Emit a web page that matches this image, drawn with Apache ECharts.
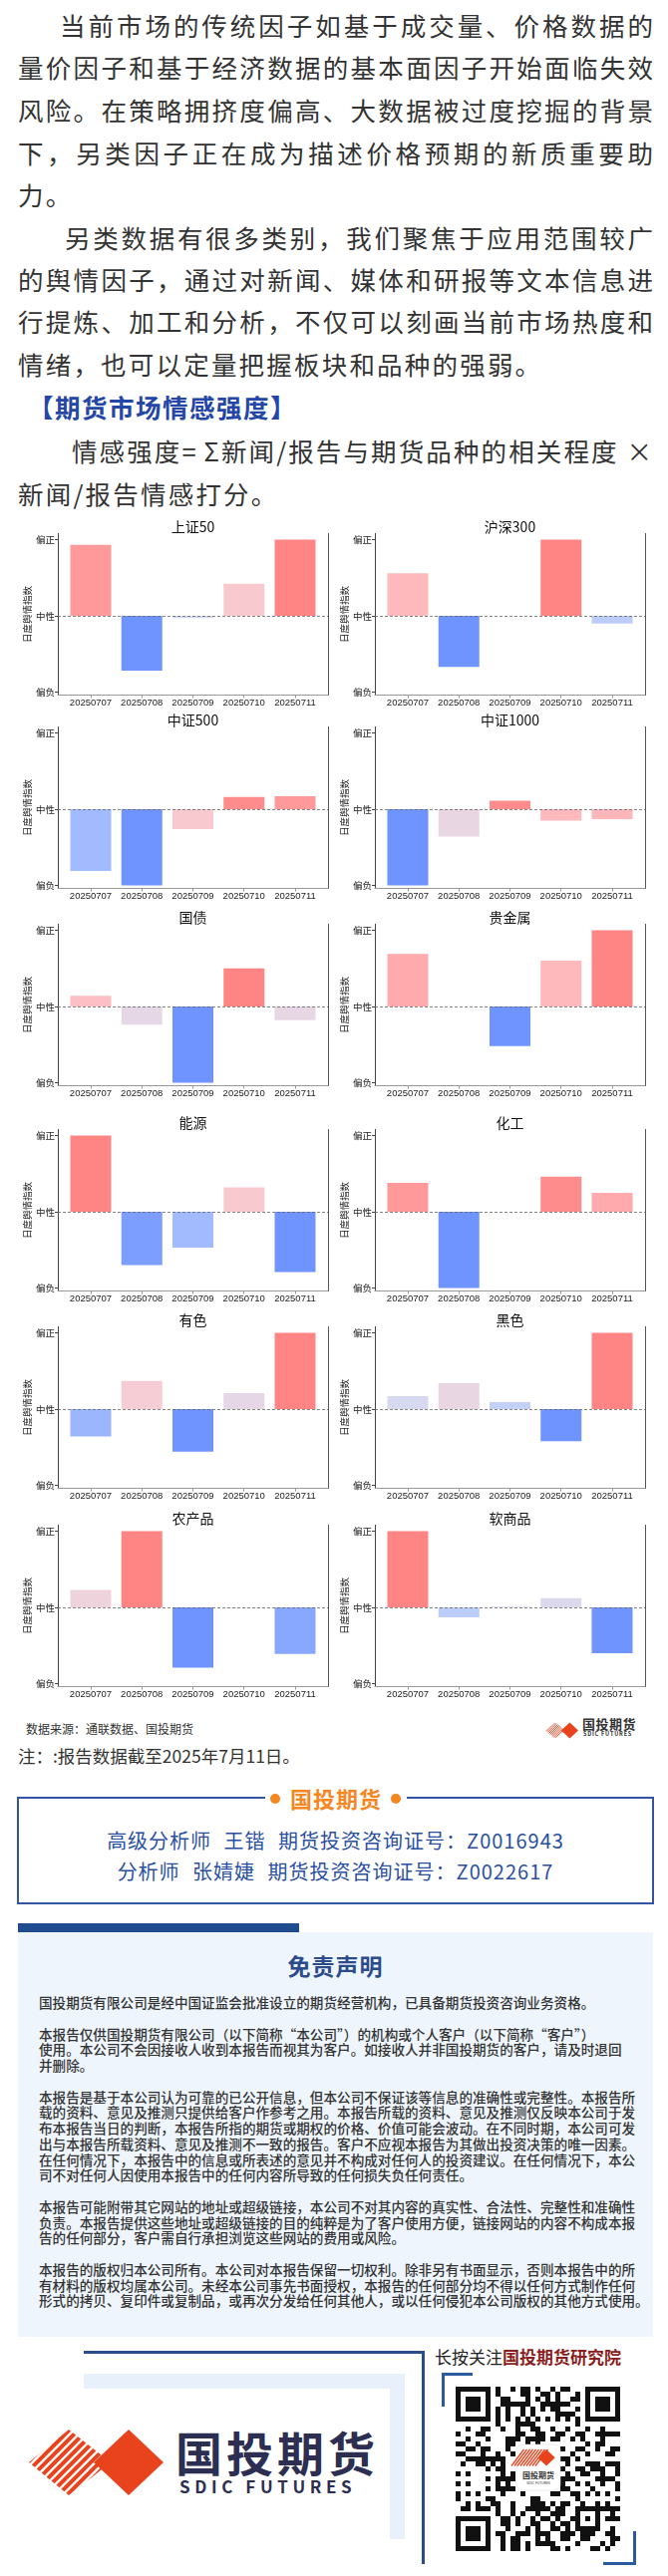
<!DOCTYPE html>
<html lang="zh-CN"><head><meta charset="utf-8">
<script src="https://cdn.jsdelivr.net/npm/echarts@6.0.0/dist/echarts.min.js"></script>
<style>
html,body{margin:0;padding:0;background:#fff;}
body{width:670px;height:2585px;position:relative;overflow:hidden;font-family:"Noto Sans CJK SC","Noto Sans",sans-serif;}
.abs{position:absolute;}
.ln{position:absolute;height:42px;line-height:42px;font-size:25.5px;color:#333;white-space:nowrap;}
.jl{text-align:justify;text-align-last:justify;letter-spacing:0;}
.nl{letter-spacing:2.2px;}
.disc{position:absolute;left:39px;top:2002px;font-size:13.6px;line-height:15.75px;color:#333;font-weight:500;white-space:pre;}
</style></head><body>

<div class="ln jl" style="left:60px;top:4px;width:595px">当前市场的传统因子如基于成交量、价格数据的</div>
<div class="ln jl" style="left:18px;top:46px;width:637px">量价因子和基于经济数据的基本面因子开始面临失效</div>
<div class="ln jl" style="left:18px;top:89px;width:637px">风险。在策略拥挤度偏高、大数据被过度挖掘的背景</div>
<div class="ln jl" style="left:18px;top:132px;width:637px">下，另类因子正在成为描述价格预期的新质重要助</div>
<div class="ln nl" style="left:18px;top:174px">力。</div>
<div class="ln jl" style="left:65px;top:217px;width:590px">另类数据有很多类别，我们聚焦于应用范围较广</div>
<div class="ln jl" style="left:18px;top:259px;width:637px">的舆情因子，通过对新闻、媒体和研报等文本信息进</div>
<div class="ln jl" style="left:18px;top:301px;width:637px">行提炼、加工和分析，不仅可以刻画当前市场热度和</div>
<div class="ln nl" style="left:18px;top:344px">情绪，也可以定量把握板块和品种的强弱。</div>
<div class="ln" style="left:28px;top:387px;font-weight:700;color:#2446a6;letter-spacing:1.5px">【期货市场情感强度】</div>
<div class="ln jl" style="left:72px;top:431px;width:582px">情感强度= Σ新闻/报告与期货品种的相关程度 ×</div>
<div class="ln nl" style="left:18px;top:474px">新闻/报告情感打分。</div>

<div id="chart" class="abs" style="left:0;top:505px;width:670px;height:1215px"></div>

<div class="abs" style="left:26px;top:1726px;font-size:12px;line-height:18px;color:#333">数据来源：通联数据、国投期货</div>
<div class="abs" id="smallIcon" style="left:547px;top:1726px;width:33px;height:17px"></div>
<div class="abs" style="left:584px;top:1722px;font-size:13px;line-height:16px;font-weight:700;color:#333;letter-spacing:0.5px">国投期货</div>
<div class="abs" style="left:585px;top:1737px;font-size:5.5px;line-height:7px;font-weight:700;color:#333;letter-spacing:0.8px">SDIC FUTURES</div>

<div class="abs" style="left:18px;top:1749px;font-size:17.5px;line-height:26px;color:#333">注：:报告数据截至2025年7月11日。</div>

<div class="abs" style="left:17px;top:1803px;width:635px;height:104px;border:2px solid #3554a5;"></div>
<div class="abs" style="left:266px;top:1789px;width:142px;height:30px;background:#fff;"></div>
<div class="abs" style="left:271px;top:1800px;width:10px;height:10px;border-radius:50%;background:#f6861f"></div>
<div class="abs" style="left:392px;top:1800px;width:10px;height:10px;border-radius:50%;background:#f6861f"></div>
<div class="abs" style="left:287px;top:1789px;width:100px;text-align:center;font-size:22px;line-height:30px;font-weight:700;color:#f6861f;letter-spacing:1px">国投期货</div>
<div class="abs" style="left:17px;top:1834px;width:639px;text-align:center;font-size:20px;line-height:26px;color:#2b4fa0;letter-spacing:1px;word-spacing:7px">高级分析师 王锴 期货投资咨询证号：Z0016943</div>
<div class="abs" style="left:17px;top:1865px;width:639px;text-align:center;font-size:20px;line-height:26px;color:#2b4fa0;letter-spacing:1px;word-spacing:7px">分析师 张婧婕 期货投资咨询证号：Z0022617</div>

<div class="abs" style="left:18px;top:1930px;width:282px;height:9px;background:#1e4c8f"></div>
<div class="abs" style="left:18px;top:1939px;width:637px;height:406px;background:#eef5fd"></div>
<div class="abs" style="left:18px;top:1956px;width:637px;text-align:center;font-size:23px;line-height:32px;font-weight:700;color:#2b4b8a;letter-spacing:1px">免责声明</div>
<div class="disc">国投期货有限公司是经中国证监会批准设立的期货经营机构，已具备期货投资咨询业务资格。

本报告仅供国投期货有限公司（以下简称“本公司”）的机构或个人客户（以下简称“客户”）
使用。本公司不会因接收人收到本报告而视其为客户。如接收人并非国投期货的客户，请及时退回
并删除。

本报告是基于本公司认为可靠的已公开信息，但本公司不保证该等信息的准确性或完整性。本报告所
载的资料、意见及推测只提供给客户作参考之用。本报告所载的资料、意见及推测仅反映本公司于发
布本报告当日的判断，本报告所指的期货或期权的价格、价值可能会波动。在不同时期，本公司可发
出与本报告所载资料、意见及推测不一致的报告。客户不应视本报告为其做出投资决策的唯一因素。
在任何情况下，本报告中的信息或所表述的意见并不构成对任何人的投资建议。在任何情况下，本公
司不对任何人因使用本报告中的任何内容所导致的任何损失负任何责任。

本报告可能附带其它网站的地址或超级链接，本公司不对其内容的真实性、合法性、完整性和准确性
负责。本报告提供这些地址或超级链接的目的纯粹是为了客户使用方便，链接网站的内容不构成本报
告的任何部分，客户需自行承担浏览这些网站的费用或风险。

本报告的版权归本公司所有。本公司对本报告保留一切权利。除非另有书面显示，否则本报告中的所
有材料的版权均属本公司。未经本公司事先书面授权，本报告的任何部分均不得以任何方式制作任何
形式的拷贝、复印件或复制品，或再次分发给任何其他人，或以任何侵犯本公司版权的其他方式使用。</div>

<!-- footer decoration -->
<div class="abs" style="left:84px;top:2382px;width:322px;height:15px;background:#e8f1fb"></div>
<div class="abs" style="left:391px;top:2382px;width:15px;height:166px;background:#e8f1fb"></div>
<div class="abs" style="left:84px;top:2359px;width:342px;height:2.5px;background:#2c4d8c"></div>
<div class="abs" style="left:423px;top:2359px;width:2.5px;height:214px;background:#2c4d8c"></div>
<div class="abs" id="bigIcon" style="left:29px;top:2438px;width:135px;height:66px"></div>
<div class="abs" style="left:176px;top:2432px;font-size:47px;line-height:56px;font-weight:700;color:#2d2f52;letter-spacing:4px">国投期货</div>
<div class="abs" style="left:180px;top:2484px;font-size:17px;line-height:22px;font-weight:700;color:#2d2f52;letter-spacing:4.6px">SDIC FUTURES</div>

<div class="abs" style="left:436px;top:2353px;font-size:17px;line-height:24px;color:#222;white-space:nowrap">长按关注<span style="color:#8b1d1d;font-weight:700">国投期货研究院</span></div>
<div class="abs" style="left:443px;top:2381px;width:31px;height:3px;background:#2c5aa0"></div>
<div class="abs" style="left:443px;top:2381px;width:3px;height:34px;background:#2c5aa0"></div>
<div class="abs" style="left:605px;top:2571px;width:33px;height:3px;background:#2c5aa0"></div>
<div class="abs" style="left:635px;top:2540px;width:3px;height:34px;background:#2c5aa0"></div>
<div class="abs" id="qr" style="left:457px;top:2395px;width:165px;height:165px"></div>

<script>
// ---------------- data ----------------
const dates = ['20250707', '20250708', '20250709', '20250710', '20250711'];
const yTickNames = ['偏负', '中性', '偏正'];
const yAxisName = '日度舆情指数';

const sz50 = [0.93, -0.72, -0.03, 0.42, 1.0];
const sz50Tone = [0.85, -1, -0.2, 0.4, 1];
const hs300 = [0.56, -0.67, 0, 1.0, -0.10];
const hs300Tone = [0.6, -1, 0, 1, -0.4];
const zz500 = [-0.81, -1.0, -0.26, 0.16, 0.17];
const zz500Tone = [-0.6, -1, 0.4, 0.95, 0.85];
const zz1000 = [-1.0, -0.36, 0.11, -0.15, -0.13];
const zz1000Tone = [-1, 0.12, 0.95, 0.6, 0.62];
const guozhai = [0.14, -0.24, -1.0, 0.50, -0.18];
const guozhaiTone = [0.55, 0.08, -1, 1, 0.1];
const guijinshu = [0.69, 0, -0.52, 0.60, 1.0];
const guijinshuTone = [0.72, 0, -1, 0.6, 1];
const nengyuan = [1.0, -0.70, -0.47, 0.32, -0.79];
const nengyuanTone = [1, -0.9, -0.6, 0.4, -1];
const huagong = [0.38, -1.0, 0, 0.46, 0.25];
const huagongTone = [0.85, -1, 0, 0.95, 0.72];
const youse = [-0.36, 0.37, -0.56, 0.21, 1.0];
const youseTone = [-0.65, 0.35, -1, 0.08, 1];
const heise = [0.17, 0.34, 0.09, -0.42, 1.0];
const heiseTone = [-0.12, 0.12, -0.35, -1, 1];
const nongchanpin = [0.23, 1.0, -0.79, -0.005, -0.61];
const nongchanpinTone = [0.2, 1, -1, 0, -0.8];
const ruanshangpin = [1.0, -0.13, 0.01, 0.12, -0.60];
const ruanshangpinTone = [1, -0.4, 0, -0.05, -1];

const panelNames = ['上证50', '沪深300', '中证500', '中证1000', '国债', '贵金属', '能源', '化工', '有色', '黑色', '农产品', '软商品'];
const panelValues = [sz50, hs300, zz500, zz1000, guozhai, guijinshu, nengyuan, huagong, youse, heise, nongchanpin, ruanshangpin];
const panelTones = [sz50Tone, hs300Tone, zz500Tone, zz1000Tone, guozhaiTone, guijinshuTone, nengyuanTone, huagongTone, youseTone, heiseTone, nongchanpinTone, ruanshangpinTone];

// ---------------- layout ----------------
const OFFSET = 505;
const colLeft = [58, 376];
const plotW = 271;
const zeroY = [618, 812, 1010, 1216, 1414, 1613];
const UNIT = 76.5;
const YMIN = -1.04, YMAX = 1.08;
const XMIN = -0.644, XMAX = 4.644;
const FONT = '"Noto Sans CJK SC", "Noto Sans", sans-serif';
const NUMFONT = '"Liberation Sans", Arial, sans-serif';

const grids = [], xAxes = [], yAxes = [], series = [], graphics = [];
panelNames.forEach((name, k) => {
  const col = k % 2, row = Math.floor(k / 2);
  const z = zeroY[row] - OFFSET;
  const top = z - YMAX * UNIT;
  const h = (YMAX - YMIN) * UNIT;
  grids.push({left: colLeft[col], top: top, width: plotW, height: h, containLabel: false});
  xAxes.push({
    type: 'value', gridIndex: k, min: XMIN, max: XMAX,
    axisLine: {show: true, onZero: false, lineStyle: {color: '#999', width: 1}},
    axisTick: {show: true, customValues: [0, 1, 2, 3, 4], length: 3, lineStyle: {color: '#999'}},
    axisLabel: {
      customValues: [0, 1, 2, 3, 4], margin: 3, fontSize: 9.5, color: '#222', fontFamily: NUMFONT,
      formatter: v => (Math.abs(v - Math.round(v)) < 1e-6 && v >= 0 && v <= 4) ? dates[Math.round(v)] : ''
    },
    splitLine: {show: false}
  });
  yAxes.push({
    type: 'value', gridIndex: k, min: YMIN, max: YMAX, position: 'left',
    axisLine: {show: true, onZero: false, lineStyle: {color: '#444', width: 1}},
    axisTick: {show: true, customValues: [-1, 0, 1], length: 3, lineStyle: {color: '#444'}},
    axisLabel: {
      customValues: [-1, 0, 1], margin: 3, fontSize: 9.5, color: '#222', fontFamily: FONT,
      formatter: v => Math.abs(v - 1) < 1e-6 ? yTickNames[2] : (Math.abs(v) < 1e-6 ? yTickNames[1] : (Math.abs(v + 1) < 1e-6 ? yTickNames[0] : ''))
    },
    splitLine: {show: false},
    name: yAxisName, nameLocation: 'middle', nameGap: 24, nameRotate: 90,
    nameTextStyle: {fontSize: 9.5, color: '#222', fontFamily: FONT}
  });
  yAxes.push({
    type: 'value', gridIndex: k, min: YMIN, max: YMAX, position: 'right',
    axisLine: {show: true, onZero: false, lineStyle: {color: '#555', width: 1}},
    axisTick: {show: false}, axisLabel: {show: false}, splitLine: {show: false}
  });
  series.push({
    type: 'bar', xAxisIndex: k, yAxisIndex: 2 * k, barWidth: 41,
    data: dates.map((d, i) => [i, panelValues[k][i], panelTones[k][i]]),
    animation: false,
    markLine: {
      silent: true, symbol: 'none', label: {show: false}, animation: false,
      lineStyle: {type: [3, 2], color: '#666', width: 0.8},
      data: [{yAxis: 0}]
    }
  });
  graphics.push({
    type: 'text', x: colLeft[col] + plotW / 2, y: z - 89,
    style: {text: name, fill: '#111', font: '14px ' + FONT, textAlign: 'center', textVerticalAlign: 'middle', align: 'center', verticalAlign: 'middle'}
  });
});

const chart = echarts.init(document.getElementById('chart'), null, {renderer: 'canvas'});
chart.setOption({
  animation: false,
  grid: grids, xAxis: xAxes, yAxis: yAxes, series: series,
  visualMap: {
    type: 'continuous', show: false, dimension: 2, min: -1, max: 1,
    seriesIndex: series.map((s, i) => i),
    inRange: {color: ['#6f94ff', '#8eacff', '#b0c5fd', '#cfd9f6', '#dfd9ea', '#f2d2da', '#fcc5ca', '#ffa6a8', '#ff8585']}
  },
  graphic: graphics
});

// ---------------- decorations ----------------
function iconSVG(id, w, h) {
  let lines = '';
  for (let x = -70; x <= 90; x += 9) lines += `<line x1="${x}" y1="66" x2="${x + 66}" y2="0"/>`;
  return `<svg width="${w}" height="${h}" viewBox="0 0 135 66" xmlns="http://www.w3.org/2000/svg">
  <defs><clipPath id="${id}"><polygon points="0,33 40,0 82,33 40,66"/></clipPath></defs>
  <g clip-path="url(#${id})" stroke="#e8431d" stroke-width="4">${lines}</g>
  <polygon points="100,0 135,33 100,66 65,33" fill="#e8431d"/></svg>`;
}
document.getElementById('bigIcon').innerHTML = iconSVG('cpBig', 135, 66);
document.getElementById('smallIcon').innerHTML = iconSVG('cpSmall', 33, 17);

(function drawQR() {
  const N = 33, M = 5;
  const g = [];
  for (let r = 0; r < N; r++) { g.push([]); for (let c = 0; c < N; c++) {
    const v = (r * 37 + c * 91 + ((r * c * 7) % 13) + ((r ^ c) & 5)) % 11;
    g[r].push(v < 5);
  } }
  function finder(r0, c0) {
    for (let dr = -1; dr <= 7; dr++) for (let dc = -1; dc <= 7; dc++) {
      const r = r0 + dr, c = c0 + dc;
      if (r < 0 || c < 0 || r >= N || c >= N) continue;
      const inR = dr >= 0 && dr <= 6 && dc >= 0 && dc <= 6;
      const border = inR && (dr === 0 || dr === 6 || dc === 0 || dc === 6);
      const core = dr >= 2 && dr <= 4 && dc >= 2 && dc <= 4;
      g[r][c] = border || core;
    }
  }
  finder(0, 0); finder(0, N - 7); finder(N - 7, 0);
  for (let i = 8; i < N - 8; i++) { g[6][i] = i % 2 === 0; g[i][6] = i % 2 === 0; }
  for (let dr = -2; dr <= 2; dr++) for (let dc = -2; dc <= 2; dc++) {
    g[26 + dr][26 + dc] = Math.max(Math.abs(dr), Math.abs(dc)) !== 1;
  }
  let s = `<svg width="165" height="165" viewBox="0 0 165 165" xmlns="http://www.w3.org/2000/svg"><rect width="165" height="165" fill="#fff"/>`;
  for (let r = 0; r < N; r++) for (let c = 0; c < N; c++) {
    if (r >= 12 && r <= 20 && c >= 12 && c <= 20) continue;
    if (g[r][c]) s += `<rect x="${c * M}" y="${r * M}" width="${M}" height="${M}" fill="#111"/>`;
  }
  s += `<rect x="61" y="58" width="44" height="46" rx="6" fill="#fff" stroke="#ddd" stroke-width="0.6"/>`;
  s += `<g transform="translate(66,63) scale(0.25)"><polygon points="100,0 135,33 100,66 65,33" fill="#e8431d"/>`;
  for (let x = -40; x <= 60; x += 12) s += `<line x1="${x}" y1="66" x2="${x + 50}" y2="0" stroke="#e8431d" stroke-width="5"/>`;
  s += `</g><text x="83" y="92" text-anchor="middle" font-size="8" font-weight="700" fill="#333" font-family="Noto Sans CJK SC">国投期货</text>`;
  s += `<text x="83" y="98" text-anchor="middle" font-size="3.5" fill="#333" font-family="Noto Sans">SDIC FUTURES</text></svg>`;
  document.getElementById('qr').innerHTML = s;
})();
</script>
</body></html>
